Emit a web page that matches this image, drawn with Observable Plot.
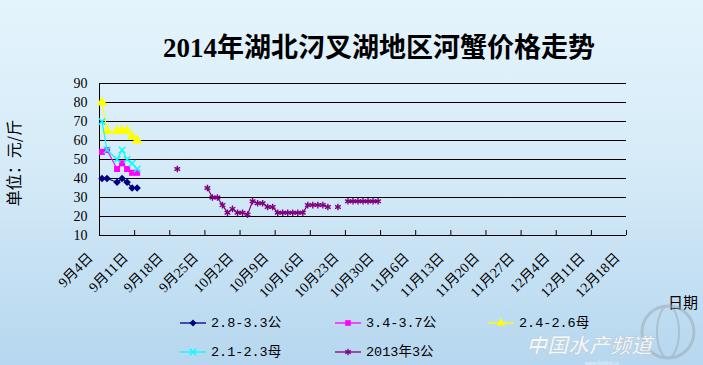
<!DOCTYPE html>
<html><head><meta charset="utf-8">
<script src="https://cdn.jsdelivr.net/npm/d3@7"></script>
<script src="https://cdn.jsdelivr.net/npm/@observablehq/plot@0.6"></script>
<style>
html,body{margin:0;padding:0;}
body{width:703px;height:365px;overflow:hidden;}
#wrap{position:relative;width:703px;height:365px;background:linear-gradient(180deg,#e4f4fc 0%,#d6ebf8 45%,#b6d7ef 100%);font-family:"Noto Sans CJK SC",sans-serif;}
#wrap svg{position:absolute;left:0;top:0;}
</style></head><body><div id="wrap"></div>
<script>
// ---- data ----
const titleText = "2014年湖北汈叉湖地区河蟹价格走势";
const yLabel = "单位：元/斤";
const xLabel = "日期";
const seriesNames = ["2.8-3.3公","3.4-3.7公","2.4-2.6母","2.1-2.3母","2013年3公"];
const seriesColors = ["#000080","#ff00ff","#ffff00","#00ffff","#800080"];
const seriesSymbols = ["diamond2","square","triangle","times","asterisk"];

const dates2014 = ["09-04","09-05","09-07","09-08","09-09","09-10","09-11"];
const male28_33   = [40,40,38,40,38,35,35];
const male34_37   = [54,55,45,48,45,43,43];
const female24_26 = [80,65,65,65,65,62,60];
const female21_23 = [70,55,50,55,50,48,45];

const dates2013 = ["09-19","09-20","09-25","09-26","09-27","09-28","09-29","09-30","10-01","10-02","10-03","10-04","10-05","10-06","10-07","10-08","10-09","10-10","10-11","10-12","10-13","10-14","10-15","10-16","10-17","10-18","10-19","10-20","10-21","10-22","10-23","10-24","10-25","10-26","10-27","10-28","10-29"];
const male2013 = [45,null,35,30,30,26,22,24,22,22,21,28,27,27,25,25,22,22,22,22,22,22,26,26,26,26,25,null,25,null,28,28,28,28,28,28,28];

const tickDates = ["09-04","09-11","09-18","09-25","10-02","10-09","10-16","10-23","10-30","11-06","11-13","11-20","11-27","12-04","12-11","12-18"];
const yTicks = [10,20,30,40,50,60,70,80,90];

// ---- helpers ----
const dayStart = md => new Date(`2014-${md}T00:00:00Z`);
const dayMid = md => new Date(`2014-${md}T12:00:00Z`);
const fmt = d => `${d.getUTCMonth()+1}月${d.getUTCDate()}日`;

const series = [
  {dates: dates2014, values: male28_33},
  {dates: dates2014, values: male34_37},
  {dates: dates2014, values: female24_26},
  {dates: dates2014, values: female21_23},
  {dates: dates2013, values: male2013}
].map((s, i) => ({
  name: seriesNames[i], color: seriesColors[i], symbol: seriesSymbols[i],
  rows: s.dates.map((d, j) => ({date: dayMid(d), value: s.values[j]}))
}));

const serif = '"Liberation Serif","Noto Sans CJK SC",serif';
const strokedSyms = new Set(["times", "asterisk"]);
const marks = [
  Plot.gridY(yTicks, {stroke: "#000", strokeOpacity: 1, strokeWidth: 1}),
  Plot.ruleX([dayStart(tickDates[0])], {y1: 10, y2: 90, stroke: "#000"}),
  Plot.ruleX(tickDates.map(dayStart), {y1: 10, y2: 12.6, stroke: "#000"}),
  Plot.axisY(yTicks, {tickSize: 0, tickPadding: 12, fontSize: 14, fontFamily: serif, fill: "#000", label: null}),
  Plot.axisX(tickDates.map(dayStart), {tickSize: 0, tickPadding: 20, dx: -9, tickRotate: -45, tickFormat: fmt, fontSize: 14, fontFamily: serif, fill: "#000", label: null})
];
series.forEach(s => {
  marks.push(Plot.line(s.rows, {x: "date", y: "value", stroke: s.color, strokeWidth: 1.2, curve: "linear"}));
  const pts = s.rows.filter(r => r.value != null);
  marks.push(Plot.dot(pts, strokedSyms.has(s.symbol)
    ? {x: "date", y: "value", symbol: s.symbol, stroke: s.color, strokeWidth: 1.4, r: 3.1}
    : {x: "date", y: "value", symbol: s.symbol, fill: s.color, stroke: "none", r: s.symbol === "triangle" ? 4 : 3.4}));
});

const chart = Plot.plot({
  width: 703, height: 365,
  marginLeft: 99, marginRight: 77, marginTop: 83, marginBottom: 130,
  style: {background: "transparent", overflow: "visible"},
  x: {type: "utc", domain: [dayStart(tickDates[0]), dayStart(tickDates[tickDates.length - 1])]},
  y: {domain: [10, 90]},
  marks
});
document.getElementById("wrap").appendChild(chart);

// ---- overlay: title, axis titles, legend, watermark ----
const ov = d3.select("#wrap").append("svg").attr("width", 703).attr("height", 365);
ov.append("text").attr("x", 379).attr("y", 57).attr("text-anchor", "middle")
  .attr("font-size", 27).attr("font-weight", "bold").attr("font-family", serif).attr("fill", "#000").text(titleText);
ov.append("text").attr("transform", "translate(13,163) rotate(-90)").attr("text-anchor", "middle")
  .attr("dominant-baseline", "central").attr("font-size", 16).attr("fill", "#000").text(yLabel);
ov.append("text").attr("x", 668).attr("y", 308).attr("font-size", 15).attr("fill", "#000").text(xLabel);

// watermark
const wm = ov.append("g").attr("opacity", 0.5);
wm.append("circle").attr("cx", 668).attr("cy", 332).attr("r", 26).attr("fill", "none").attr("stroke", "#9aa8b4").attr("stroke-width", 3);
wm.append("ellipse").attr("cx", 668).attr("cy", 332).attr("rx", 11).attr("ry", 26).attr("fill", "none").attr("stroke", "#9aa8b4").attr("stroke-width", 2);
ov.append("text").attr("x", 526).attr("y", 353).attr("font-size", 21).attr("font-style", "italic").attr("font-weight", "bold")
  .attr("fill", "#ffffff").attr("opacity", 0.85).attr("stroke", "#b9c8d4").attr("stroke-width", 0.6).text("中国水产频道");
ov.append("text").attr("x", 585).attr("y", 365).attr("font-size", 4.5).attr("fill", "#ffffff").attr("opacity", 0.8).text("www.fishfirst.cn");

const legendPos = [
  {x0: 180, y: 323}, {x0: 335, y: 323}, {x0: 488, y: 323},
  {x0: 180, y: 352}, {x0: 335, y: 352}
];
const symMap = {diamond2: d3.symbolDiamond2, square: d3.symbolSquare, triangle: d3.symbolTriangle, times: d3.symbolTimes, asterisk: d3.symbolAsterisk};
series.forEach((s, i) => {
  const p = legendPos[i];
  const g = ov.append("g");
  g.append("line").attr("x1", p.x0).attr("x2", p.x0 + 26).attr("y1", p.y).attr("y2", p.y).attr("stroke", s.color).attr("stroke-width", 1.3);
  const stroked = strokedSyms.has(s.symbol);
  g.append("path").attr("transform", `translate(${p.x0 + 13},${p.y})`)
    .attr("d", d3.symbol(symMap[s.symbol], stroked ? 28 : 32)())
    .attr("fill", stroked ? "none" : s.color).attr("stroke", stroked ? s.color : "none").attr("stroke-width", 1.3);
  g.append("text").attr("x", p.x0 + 31).attr("y", p.y).attr("dominant-baseline", "central")
    .attr("font-size", 13.5).attr("font-family", '"Liberation Mono","Noto Sans CJK SC",monospace').attr("fill", "#000").text(s.name);
});
</script>
</body></html>
